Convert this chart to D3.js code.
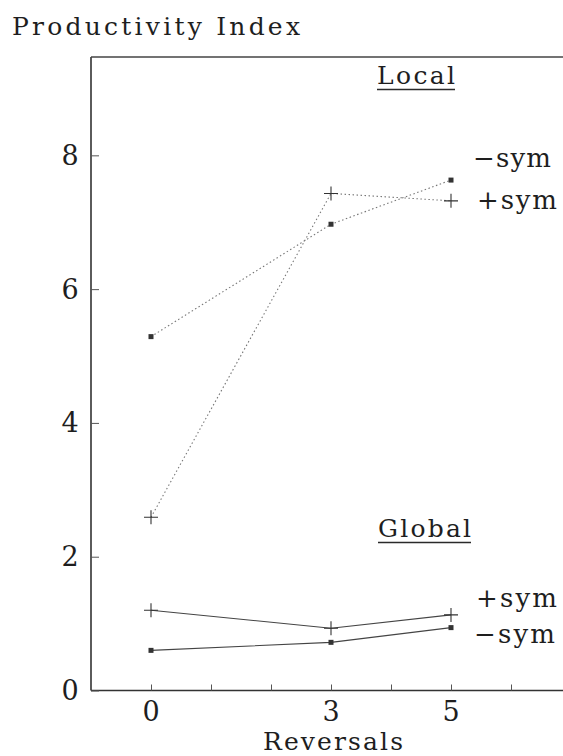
<!DOCTYPE html>
<html>
<head>
<meta charset="utf-8">
<script src="https://cdn.jsdelivr.net/npm/d3@7"></script>
<style>
  html, body { margin: 0; padding: 0; background: #fff; }
  svg text { font-family: "DejaVu Serif", serif; fill: #1e1e1e; }
</style>
</head>
<body>
<svg id="chart" width="563" height="756"></svg>
<script>
// Reversal counts on the x axis
const reversals = [0, 3, 5];
// Productivity index, local condition
const localMinusSym = [5.29, 6.97, 7.63];
const localPlusSym  = [2.59, 7.43, 7.32];
// Productivity index, global condition
const globalPlusSym  = [1.20, 0.93, 1.13];
const globalMinusSym = [0.60, 0.72, 0.94];
// Axis ticks
const xTicks = [0, 1, 2, 3, 4, 5, 6, 7];
const xTickLabels = [0, 3, 5];
const yTicks = [0, 2, 4, 6, 8];

const svg = d3.select("#chart");
const x = d3.scaleLinear().domain([-1, 7.2]).range([91, 583]);
const y = d3.scaleLinear().domain([0, 9.47]).range([690.5, 57]);

// Frame: left and top edges
svg.append("line").attr("x1", x(-1)).attr("x2", x(-1)).attr("y1", y(0)).attr("y2", y(9.47))
  .attr("stroke", "#333").attr("stroke-width", 1.6);
svg.append("line").attr("x1", x(-1)).attr("x2", 563).attr("y1", y(9.47)).attr("y2", y(9.47))
  .attr("stroke", "#444").attr("stroke-width", 1.3);

// X axis
const xAxis = d3.axisBottom(x).tickValues(xTicks).tickSize(-6).tickFormat("");
const gx = svg.append("g").attr("transform", `translate(0,${y(0)})`).call(xAxis);
gx.select(".domain").attr("d", `M${x(-1)},0H563`).attr("stroke", "#333").attr("stroke-width", 1.6);
gx.selectAll(".tick line").attr("stroke", "#555");
svg.selectAll(".xlab").data(xTickLabels).enter().append("text")
  .attr("class", "xlab").attr("x", d => x(d)).attr("y", 721)
  .attr("text-anchor", "middle").attr("font-size", 27).text(d => d);

// Y axis
const yAxis = d3.axisRight(y).tickValues(yTicks).tickSize(8).tickFormat("");
const gy = svg.append("g").attr("transform", `translate(${x(-1)},0)`).call(yAxis);
gy.select(".domain").remove();
gy.selectAll(".tick line").attr("stroke", "#555");
svg.selectAll(".ylab").data(yTicks).enter().append("text")
  .attr("class", "ylab").attr("x", 70).attr("y", d => y(d) + 9.5)
  .attr("text-anchor", "middle").attr("font-size", 27).text(d => d);

// Fitted text helper: left edge, right edge, baseline
function fitted(label, x0, x1, baseline, size) {
  return svg.append("text").attr("x", x0).attr("y", baseline).attr("font-size", size)
    .attr("textLength", x1 - x0).attr("lengthAdjust", "spacing").text(label);
}

// Titles
fitted("Productivity Index", 12, 300, 35, 25);
fitted("Reversals", 263, 403, 750, 25);

// Section headings with underline
function heading(label, x0, x1, baseline) {
  fitted(label, x0, x1, baseline, 25);
  svg.append("line").attr("x1", x0).attr("x2", x1)
    .attr("y1", baseline + 5.5).attr("y2", baseline + 5.5)
    .attr("stroke", "#2a2a2a").attr("stroke-width", 1.7);
}
heading("Local", 377, 455, 84);
heading("Global", 378, 471, 537);

const line = d3.line().x((d, i) => x(reversals[i])).y(d => y(d));

function series(values, dotted, marker) {
  svg.append("path").datum(values).attr("d", line).attr("fill", "none")
    .attr("stroke", dotted ? "#777" : "#444")
    .attr("stroke-width", 1.1)
    .attr("stroke-dasharray", dotted ? "1.5,2.5" : null);
  const g = svg.append("g");
  values.forEach((v, i) => {
    const cx = x(reversals[i]), cy = y(v);
    if (marker === "plus") {
      g.append("path").attr("d", `M${cx - 7},${cy}H${cx + 7}M${cx},${cy - 7}V${cy + 7}`)
        .attr("stroke", "#333").attr("stroke-width", 1.1);
    } else {
      g.append("rect").attr("x", cx - 2.5).attr("y", cy - 2.5).attr("width", 5).attr("height", 5)
        .attr("fill", "#333");
    }
  });
}
series(localMinusSym, true, "square");
series(localPlusSym, true, "plus");
series(globalPlusSym, false, "plus");
series(globalMinusSym, false, "square");

// Series labels
const labels = [
  { t: "\u2212sym", x0: 473, x1: 551, y: 167 },
  { t: "+sym", x0: 477, x1: 557, y: 209 },
  { t: "+sym", x0: 476, x1: 557, y: 607 },
  { t: "\u2212sym", x0: 474, x1: 555, y: 643 }
];
labels.forEach(d => fitted(d.t, d.x0, d.x1, d.y, 26));
</script>
</body>
</html>
